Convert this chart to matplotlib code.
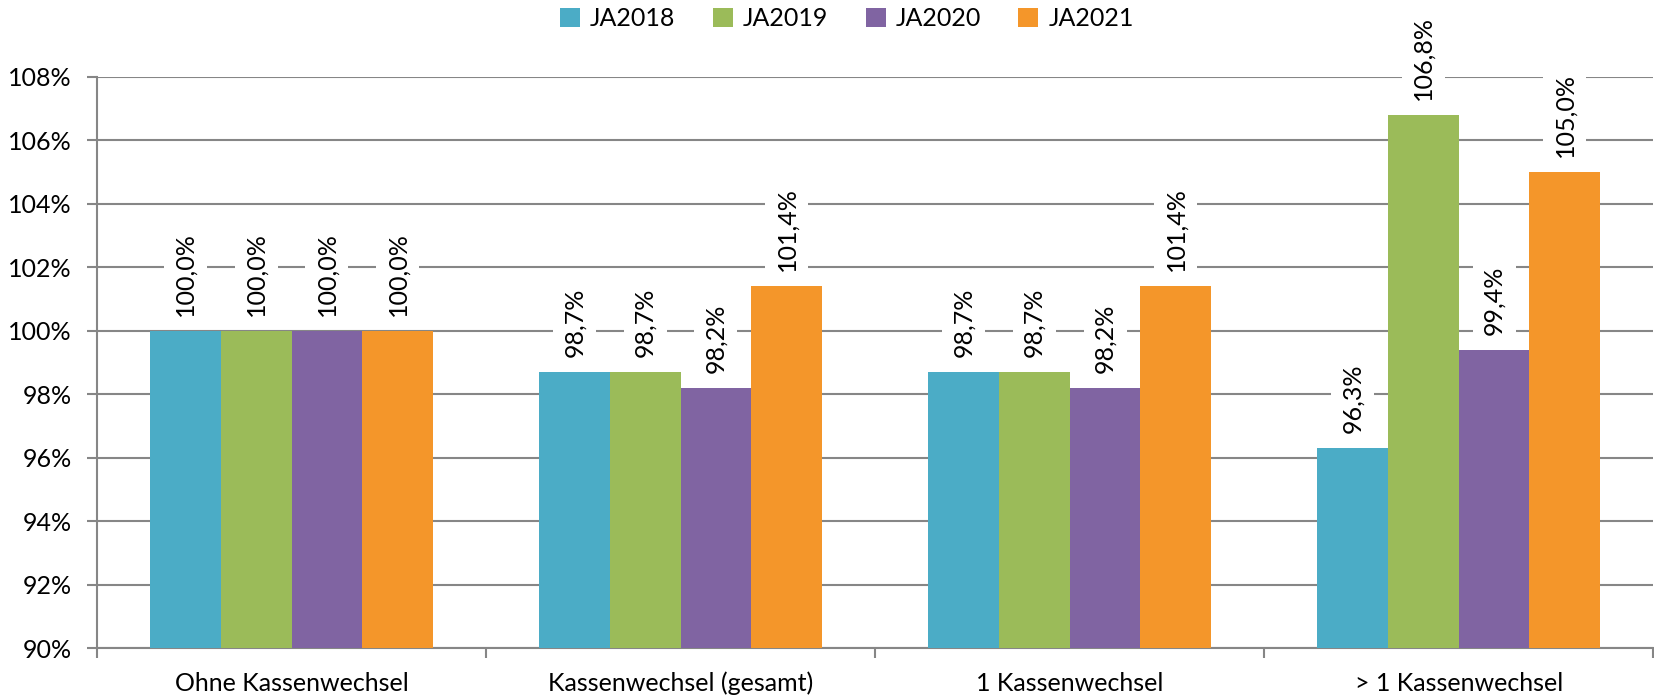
import matplotlib
matplotlib.use("Agg")
import matplotlib.pyplot as plt
import numpy as np
from matplotlib.ticker import FuncFormatter, FixedLocator

categories = ["Ohne Kassenwechsel", "Kassenwechsel (gesamt)", "1 Kassenwechsel", "> 1 Kassenwechsel"]
series_names = ["JA2018", "JA2019", "JA2020", "JA2021"]
ja2018 = [100.0, 98.7, 98.7, 96.3]
ja2019 = [100.0, 98.7, 98.7, 106.8]
ja2020 = [100.0, 98.2, 98.2, 99.4]
ja2021 = [100.0, 101.4, 101.4, 105.0]
series_values = [ja2018, ja2019, ja2020, ja2021]
colors = ["#4BACC6", "#9BBB59", "#8064A2", "#F4962A"]

plt.rcParams['font.family'] = ['Lato', 'DejaVu Sans']
FS = 18
grid_c = "#868686"

fig = plt.figure(figsize=(16.54, 6.96), dpi=100)
ax = fig.add_axes([97/1654, 1-648/696, 1-97/1654-0.0005, (648-77)/696])

n = len(series_names)
bw = 0.182
x = np.arange(len(categories))
for i, (name, vals, c) in enumerate(zip(series_names, series_values, colors)):
    pos = x + (i - (n-1)/2) * bw
    ax.bar(pos, np.array(vals) - 90, bottom=90, width=bw, color=c, label=name, zorder=3, linewidth=0)
    for p, v in zip(pos, vals):
        ax.annotate(f"{v:.1f}%".replace(".", ","), xy=(p, v), xytext=(0, 15),
                    textcoords="offset pixels",
                    rotation=90, ha="center", va="bottom", fontsize=FS, color="black",
                    bbox=dict(boxstyle="square,pad=0.4", fc="white", ec="none"), zorder=4)

ax.set_ylim(90, 108)
ax.set_xlim(-0.5, len(categories) - 0.5)
ax.set_yticks(np.arange(90, 109, 2))
ax.yaxis.set_major_formatter(FuncFormatter(lambda v, p: f"{v:.0f}%"))
ax.yaxis.grid(True, color=grid_c, linewidth=1.5, zorder=0)
ax.set_axisbelow(True)

ax.set_xticks(x)
ax.set_xticklabels(categories, fontsize=FS)
ax.tick_params(axis="x", which="major", length=0, pad=17)
ax.xaxis.set_minor_locator(FixedLocator(np.arange(-0.5, len(categories), 1.0)))
ax.tick_params(axis="x", which="minor", length=7, width=1.5, color=grid_c)
ax.tick_params(axis="y", length=7, width=1.5, color=grid_c, labelsize=FS, pad=11)

for s in ["top", "right"]:
    ax.spines[s].set_visible(False)
for s in ["left", "bottom"]:
    ax.spines[s].set_color(grid_c)
    ax.spines[s].set_linewidth(1.5)

fig.legend(loc="center", bbox_to_anchor=(0.512, 1-19/696), ncol=4, frameon=False,
           fontsize=FS, handlelength=0.8, handleheight=0.8, handletextpad=0.4, columnspacing=1.5)

fig.savefig("out.png", dpi=100)
